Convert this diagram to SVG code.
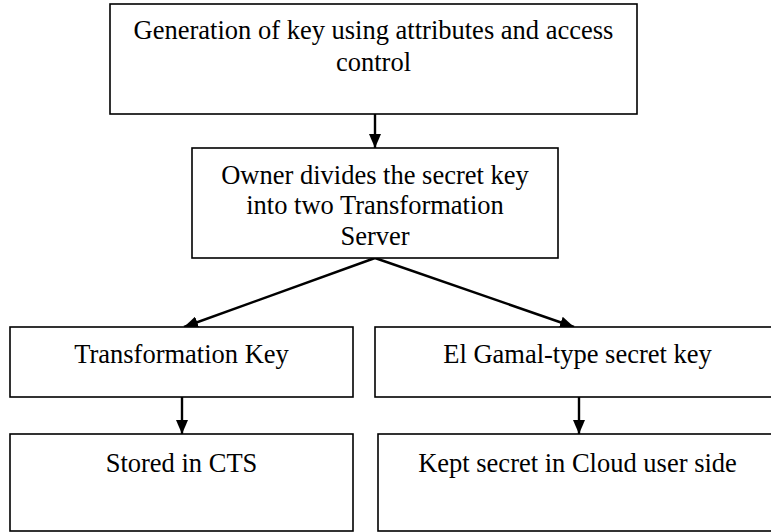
<svg xmlns="http://www.w3.org/2000/svg" width="771" height="532" viewBox="0 0 771 532">
  <style>
    .box { fill: #ffffff; stroke: #000000; stroke-width: 1.6; }
    .label { font-family: "Liberation Serif", "Times New Roman", serif; font-size: 26.5px; fill: #000000; text-anchor: middle; }
    .edge { fill: none; stroke: #000000; stroke-width: 2.4; marker-end: url(#head); }
  </style>
  <defs>
    <marker id="head" viewBox="0 0 14 12" refX="14" refY="6" markerWidth="14" markerHeight="12" markerUnits="userSpaceOnUse" orient="auto">
      <path d="M0,0 L14,6 L0,12 Z" fill="#000000"/>
    </marker>
  </defs>

  <rect width="771" height="532" fill="#ffffff"/>

  <!-- connectors -->
  <g id="connectors">
    <line class="edge" x1="375" y1="114" x2="375" y2="148"/>
    <line class="edge" x1="375" y1="258" x2="184" y2="327"/>
    <line class="edge" x1="375" y1="258" x2="574" y2="327"/>
    <line class="edge" x1="182" y1="397" x2="182" y2="434"/>
    <line class="edge" x1="579" y1="397" x2="579" y2="434"/>
  </g>

  <g id="keygen">
    <rect class="box" x="110" y="4" width="527" height="110"/>
    <text class="label" x="373.5" y="39">Generation of key using attributes and access</text>
    <text class="label" x="373.5" y="71">control</text>
  </g>

  <g id="owner-split">
    <rect class="box" x="192" y="148" width="366" height="110"/>
    <text class="label" x="375" y="184">Owner divides the secret key</text>
    <text class="label" x="375" y="214">into two Transformation</text>
    <text class="label" x="375" y="245">Server</text>
  </g>

  <g id="transformation-key">
    <rect class="box" x="10" y="327" width="343" height="70"/>
    <text class="label" x="181.5" y="363">Transformation Key</text>
  </g>

  <g id="elgamal-key">
    <rect class="box" x="375" y="327" width="405" height="70"/>
    <text class="label" x="577.5" y="363">El Gamal-type secret key</text>
  </g>

  <g id="stored-cts">
    <rect class="box" x="10" y="434" width="343" height="97"/>
    <text class="label" x="181.5" y="472">Stored in CTS</text>
  </g>

  <g id="cloud-user">
    <rect class="box" x="378" y="434" width="402" height="97"/>
    <text class="label" x="577.5" y="472">Kept secret in Cloud user side</text>
  </g>
</svg>
